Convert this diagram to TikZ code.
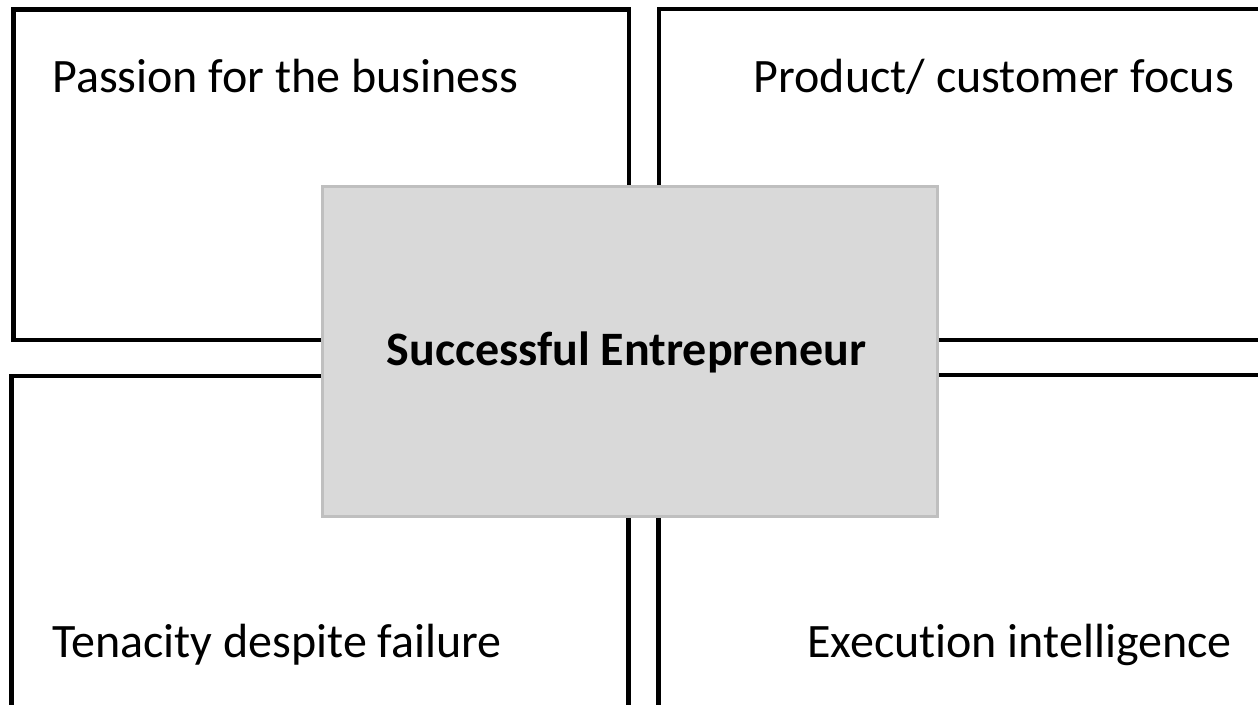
\documentclass[tikz,border=0pt]{standalone}
\usepackage{fontspec}
\setmainfont{Carlito}[Ligatures=NoCommon]
\begin{document}
\begin{tikzpicture}[x=1pt,y=-1pt,
  quad/.style={draw=black,line width=4.6pt,fill=white},
  core/.style={draw=black!25,line width=3pt,fill=black!15},
  lbl/.style={inner sep=0pt,font=\fontsize{48}{57}\selectfont},
  corelbl/.style={inner sep=0pt,font=\fontsize{48}{57}\selectfont\bfseries}]
\useasboundingbox (0,0) rectangle (1258,704);
\clip (0,0) rectangle (1258,704);
\fill[white] (0,0) rectangle (1258,704);
\draw[quad] (13.5,9.5) rectangle (629,340);
\draw[quad] (659,9) rectangle (1275,340);
\draw[quad] (11.5,376) rectangle (628.5,720);
\draw[quad] (658.5,375) rectangle (1275,720);
\node[core,minimum width=615pt,minimum height=330pt,inner sep=0pt] (ctr) at (630,351.5) {};
\node[lbl,anchor=base west] (passion) at (52,92) {Passion for the business};
\node[lbl,anchor=base east] (product) at (1234,92) {Product/ customer focus};
\node[lbl,anchor=base west] (tenacity) at (52,657) {Tenacity despite failure};
\node[lbl,anchor=base east] (execution) at (1232,657) {Execution intelligence};
\node[corelbl,anchor=base] (success) at (626.5,365) {Successful Entrepreneur};
\end{tikzpicture}
\end{document}
